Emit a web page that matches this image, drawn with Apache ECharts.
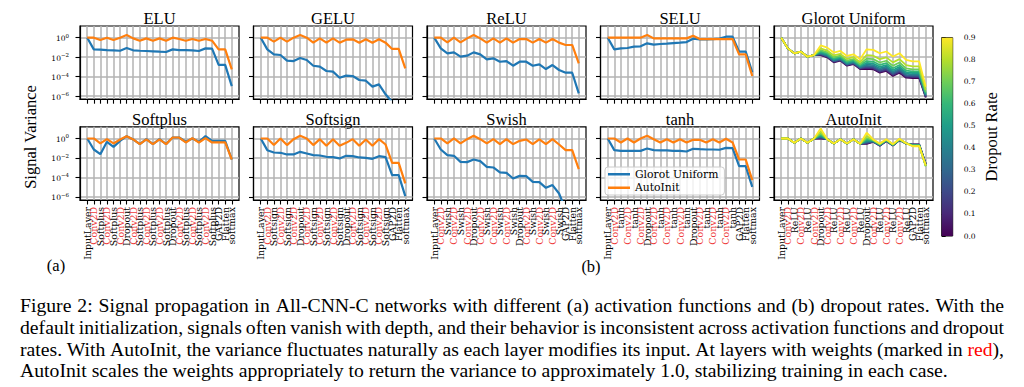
<!DOCTYPE html>
<html><head><meta charset="utf-8">
<script src="https://cdn.jsdelivr.net/npm/echarts@6/dist/echarts.min.js"></script>
<style>html,body{margin:0;padding:0;background:#fff}#c{width:1024px;height:387px}</style>
</head><body><div id="c"></div>
<script>
// ---------------- DATA (log10 of signal variance) ----------------
const layerPattern = ['InputLayer','Conv2D','ACT','Conv2D','ACT','Conv2D','Dropout','Conv2D','ACT','Conv2D','ACT','Conv2D','ACT','Dropout','Conv2D','ACT','Conv2D','ACT','Conv2D','ACT','GAP2D','Flatten','softmax'];
const panelTitles = ['ELU','GELU','ReLU','SELU','Glorot Uniform','Softplus','Softsign','Swish','tanh','AutoInit'];
const panelActs = ['ELU','GELU','ReLU','SELU','ReLU','Softplus','Softsign','Swish','tanh','ReLU'];
const yTickExponents = [-6,-4,-2,0];
const dropoutRates = [0.0,0.1,0.2,0.3,0.4,0.5,0.6,0.7,0.8,0.9];
const colorbarTicks = [0.0,0.1,0.2,0.3,0.4,0.5,0.6,0.7,0.8,0.9];

const eluGlorot    = [0,-1.2,-1.23,-1.27,-1.3,-1.34,-1.06,-1.3,-1.34,-1.37,-1.4,-1.44,-1.47,-1.2,-1.27,-1.27,-1.3,-1.37,-1.1,-1.13,-2.8,-2.8,-4.97];
const eluAutoInit  = [0,0,-0.24,0,-0.24,0,0.27,-0.07,-0.31,-0.07,-0.31,-0.07,-0.31,0,-0.14,-0.31,-0.14,-0.31,-0.14,-0.31,-1.2,-1.2,-3.25];
const geluGlorot   = [0,-1.2,-1.71,-1.78,-2.36,-2.4,-2.09,-2.29,-2.88,-2.98,-3.42,-3.49,-4.11,-3.9,-3.94,-4.35,-4.42,-5.03,-4.8,-5.82,-6.6,-6.6,-8.6];
const geluAutoInit = [0,0,-0.41,0,-0.41,0,0.27,0,-0.51,-0.07,-0.51,-0.07,-0.51,-0.2,-0.17,-0.51,-0.17,-0.51,-0.17,-0.51,-1.16,-1.16,-3.15];
const reluGlorot   = [0,-1.1,-1.61,-1.51,-1.95,-1.85,-1.51,-1.71,-2.23,-2.12,-2.47,-2.4,-2.88,-2.47,-2.47,-2.88,-2.74,-3.22,-2.81,-3.32,-3.6,-3.6,-5.72];
const reluAutoInit = [0,0,-0.48,0,-0.48,-0.07,0.27,-0.07,-0.51,-0.07,-0.51,-0.07,-0.51,-0.14,-0.14,-0.51,-0.14,-0.51,-0.14,-0.51,-0.75,-0.75,-2.64];
const seluGlorot   = [0,-1.2,-1.1,-1.06,-0.92,-0.89,-0.58,-0.72,-0.65,-0.62,-0.55,-0.51,-0.45,-0.1,-0.17,-0.17,-0.14,-0.1,0.1,0.1,-1.44,-1.44,-3.56];
const seluAutoInit = [0,0,0,0,0,0,0.27,-0.07,-0.07,-0.07,-0.07,-0.07,-0.07,0.2,-0.14,-0.14,-0.14,-0.14,-0.14,-0.14,-1.71,-1.71,-3.94];
const softplusGlorot   = [0,-1.13,-1.61,-0.34,-0.86,-0.24,0.24,-0.1,-0.58,-0.07,-0.58,-0.07,-0.58,0.1,0.1,-0.34,0,-0.34,0.24,-0.24,-0.24,-0.24,-2.16];
const softplusAutoInit = [0,0,-0.51,-0.07,-0.51,-0.1,0.24,-0.1,-0.58,-0.1,-0.58,-0.1,-0.58,0.1,0.1,-0.41,0.03,-0.41,0.03,-0.41,-0.41,-0.41,-2.16];
const softsignGlorot   = [0,-1.2,-1.44,-1.47,-1.64,-1.64,-1.37,-1.54,-1.71,-1.75,-1.88,-1.92,-2.05,-1.78,-1.82,-1.95,-1.99,-2.09,-1.82,-1.92,-3.77,-3.77,-5.92];
const softsignAutoInit = [0,0,-0.68,0,-0.68,-0.07,0.27,0,-0.68,-0.07,-0.75,-0.07,-0.75,-0.45,-0.07,-0.75,-0.1,-0.75,-0.07,-0.62,-2.5,-2.5,-4.62];
const swishGlorot   = [0,-1.13,-1.71,-1.78,-2.4,-2.43,-2.16,-2.33,-2.91,-2.98,-3.49,-3.53,-4.11,-3.84,-3.87,-4.45,-4.49,-5.07,-4.79,-5.65,-7.3,-7.3,-9.5];
const swishAutoInit = [0,0,-0.51,0,-0.51,-0.07,0.27,-0.07,-0.51,-0.07,-0.58,-0.07,-0.58,-0.24,-0.1,-0.58,-0.1,-0.58,-0.07,-0.62,-1.2,-1.2,-3.15];
const tanhGlorot   = [0,-1.2,-1.27,-1.27,-1.27,-1.27,-1.03,-1.2,-1.23,-1.23,-1.27,-1.27,-1.34,-1.06,-1.1,-1.13,-1.13,-1.16,-0.96,-0.99,-2.84,-2.84,-4.97];
const tanhAutoInit = [0,0,-0.41,0,-0.41,0,0.27,-0.07,-0.41,-0.07,-0.41,-0.07,-0.41,-0.14,-0.14,-0.41,-0.07,-0.41,-0.03,-0.41,-2.16,-2.16,-4.28];

// Dropout study (ReLU network), one row per dropout rate 0.0 ... 0.9
const glorotDropout = [
 [0,-1.1,-1.61,-1.44,-1.95,-1.78,-1.8,-2.02,-2.53,-2.36,-2.88,-2.71,-3.22,-3.2,-3.25,-3.6,-3.42,-3.94,-3.6,-4.11,-4.14,-4.14,-6.13],
 [0,-1.1,-1.61,-1.44,-1.95,-1.78,-1.75,-1.97,-2.48,-2.31,-2.83,-2.66,-3.17,-3.11,-3.16,-3.51,-3.33,-3.85,-3.51,-4.03,-4.06,-4.06,-6.08],
 [0,-1.1,-1.61,-1.44,-1.95,-1.78,-1.70,-1.92,-2.43,-2.26,-2.78,-2.61,-3.12,-3.01,-3.06,-3.41,-3.23,-3.75,-3.41,-3.93,-3.98,-3.98,-6.02],
 [0,-1.1,-1.61,-1.44,-1.95,-1.78,-1.65,-1.87,-2.38,-2.21,-2.73,-2.56,-3.07,-2.89,-2.94,-3.29,-3.11,-3.63,-3.29,-3.83,-3.88,-3.88,-5.96],
 [0,-1.1,-1.61,-1.44,-1.95,-1.78,-1.58,-1.80,-2.31,-2.14,-2.66,-2.49,-3.0,-2.76,-2.81,-3.16,-2.98,-3.5,-3.16,-3.7,-3.76,-3.76,-5.89],
 [0,-1.1,-1.61,-1.44,-1.95,-1.78,-1.5,-1.72,-2.23,-2.06,-2.58,-2.41,-2.92,-2.6,-2.65,-3.0,-2.82,-3.34,-3.0,-3.56,-3.63,-3.63,-5.8],
 [0,-1.1,-1.61,-1.44,-1.95,-1.78,-1.4,-1.62,-2.13,-1.96,-2.48,-2.31,-2.82,-2.4,-2.45,-2.8,-2.62,-3.14,-2.8,-3.38,-3.46,-3.46,-5.69],
 [0,-1.1,-1.61,-1.44,-1.95,-1.78,-1.28,-1.5,-2.01,-1.84,-2.36,-2.19,-2.7,-2.15,-2.2,-2.55,-2.37,-2.89,-2.55,-3.15,-3.25,-3.25,-5.55],
 [0,-1.1,-1.61,-1.44,-1.95,-1.78,-1.1,-1.32,-1.83,-1.66,-2.18,-2.01,-2.52,-1.8,-1.85,-2.2,-2.02,-2.54,-2.2,-2.82,-2.95,-2.95,-5.36],
 [0,-1.1,-1.61,-1.44,-1.95,-1.78,-0.8,-1.02,-1.53,-1.36,-1.88,-1.71,-2.22,-1.2,-1.25,-1.6,-1.42,-1.94,-1.6,-2.27,-2.44,-2.44,-5.03]
];
const autoInitDropout = [
 [0,0,-0.45,0,-0.45,0,0,-0.07,-0.51,-0.07,-0.51,-0.07,-0.55,-0.55,-0.34,-0.75,-0.27,-0.72,-0.17,-0.52,-0.62,-0.62,-2.6],
 [0,0,-0.45,0,-0.45,0,0.05,-0.07,-0.51,-0.07,-0.51,-0.07,-0.55,-0.5,-0.32,-0.73,-0.25,-0.71,-0.16,-0.52,-0.63,-0.63,-2.63],
 [0,0,-0.45,0,-0.45,0,0.1,-0.07,-0.51,-0.07,-0.51,-0.07,-0.55,-0.44,-0.3,-0.71,-0.24,-0.70,-0.15,-0.51,-0.64,-0.64,-2.66],
 [0,0,-0.45,0,-0.45,0,0.16,-0.07,-0.51,-0.07,-0.51,-0.07,-0.55,-0.37,-0.28,-0.69,-0.22,-0.69,-0.14,-0.51,-0.65,-0.65,-2.7],
 [0,0,-0.45,0,-0.45,0,0.22,-0.07,-0.51,-0.07,-0.51,-0.07,-0.55,-0.3,-0.26,-0.67,-0.2,-0.68,-0.13,-0.5,-0.67,-0.67,-2.74],
 [0,0,-0.45,0,-0.45,0,0.3,-0.07,-0.51,-0.07,-0.51,-0.07,-0.55,-0.2,-0.23,-0.64,-0.18,-0.66,-0.11,-0.5,-0.69,-0.69,-2.78],
 [0,0,-0.45,0,-0.45,0,0.4,-0.07,-0.51,-0.07,-0.51,-0.07,-0.55,-0.09,-0.2,-0.61,-0.16,-0.65,-0.1,-0.5,-0.71,-0.71,-2.82],
 [0,0,-0.45,0,-0.45,0,0.52,-0.07,-0.51,-0.07,-0.51,-0.07,-0.55,0.05,-0.17,-0.58,-0.13,-0.63,-0.08,-0.49,-0.74,-0.74,-2.85],
 [0,0,-0.45,0,-0.45,0,0.7,-0.07,-0.51,-0.07,-0.51,-0.07,-0.55,0.25,-0.14,-0.55,-0.1,-0.61,-0.06,-0.49,-0.77,-0.77,-2.83],
 [0,0,-0.45,0,-0.45,0,1.02,-0.07,-0.51,-0.07,-0.51,-0.07,-0.55,0.6,-0.1,-0.51,-0.07,-0.58,-0.03,-0.48,-0.8,-0.8,-2.75]
];

const captionLines = [
 'Figure 2: Signal propagation in All-CNN-C networks with different (a) activation functions and (b) dropout rates. With the',
 'default initialization, signals often vanish with depth, and their behavior is inconsistent across activation functions and dropout',
 'rates. With AutoInit, the variance fluctuates naturally as each layer modifies its input. At layers with weights (marked in red),',
 'AutoInit scales the weights appropriately to return the variance to approximately 1.0, stabilizing training in each case.'
];

// ---------------- STYLE / LAYOUT ----------------
const BLUE = '#1f77b4', ORANGE = '#ff7f0e', LABELRED = '#ee3b3b';
const viridis = ['#440154','#482878','#3e4989','#31688e','#26828e','#1f9e89','#35b779','#6ece58','#b5de2b','#fde725'];
const panelLeft = [80, 253.5, 427, 600.5, 774];
const rowTop = [26, 126.8];
const panelW = 159, panelH = 73.2;
const SERIF = 'Liberation Serif', LSERIF = 'DejaVu Serif';
const GRIDC = '#b3b3b3';
const XMIN = -1.1, XMAX = 23.1, YMIN = -6.32, YMAX = 1.2;

const grids = [], xAxes = [], yAxes = [], series = [], graphics = [];
const xIdx = layerPattern.map((_, i) => i);
const xEven = xIdx.filter(i => i % 2 === 0), xOdd = xIdx.filter(i => i % 2 === 1);

function supExp(v){ const e = Math.round(v); return e < 0 ? '\u2212' + (-e) : String(e); }
function labelCfg(names, values, show) {
  return {show: show, customValues: values, rotate: 90, margin: 7,
    showMinLabel: true, showMaxLabel: true, hideOverlap: false,
    fontFamily: LSERIF, fontSize: 9.4,
    formatter: v => names[Math.round(Number(v))],
    color: (v) => names[Math.round(Number(v))] === 'Conv2D' ? LABELRED : '#000'};
}

const panelNames = [];
for (let k = 0; k < 10; k++) {
  const row = Math.floor(k / 5), col = k % 5;
  const left = panelLeft[col], top = rowTop[row];
  grids.push({left: left, top: top, width: panelW, height: panelH, show: true,
    borderColor: '#000', borderWidth: 1.2, backgroundColor: 'transparent', containLabel: false});
  const act = panelActs[k];
  const names = layerPattern.map(n => n === 'ACT' ? act : n);
  panelNames.push(names);
  xAxes.push({type: 'value', gridIndex: k, min: XMIN, max: XMAX,
    axisLine: {show: true, onZero: false, lineStyle: {color: '#000', width: 1.2}},
    axisTick: {show: true, customValues: xIdx, length: 4.5, inside: false, lineStyle: {color: '#000', width: 1.1}},
    splitLine: {show: true, lineStyle: {color: GRIDC, width: 1.5}},
    axisLabel: labelCfg(names, xEven, row === 1)
  });
  yAxes.push({type: 'value', gridIndex: k, min: YMIN, max: YMAX,
    axisLine: {show: true, onZero: false, lineStyle: {color: '#000', width: 1.2}},
    axisTick: {show: true, customValues: yTickExponents, length: 4.5, lineStyle: {color: '#000', width: 1.1}},
    splitLine: {show: true, lineStyle: {color: GRIDC, width: 1.5}},
    axisLabel: {show: col === 0, customValues: yTickExponents, margin: 11, align: 'right',
      showMinLabel: true, showMaxLabel: true,
      formatter: v => '{b|10}{s|' + supExp(v) + '}',
      rich: {b: {fontFamily: LSERIF, fontSize: 7.5, color: '#000', lineHeight: 10, verticalAlign: 'bottom'},
             s: {fontFamily: LSERIF, fontSize: 5.5, color: '#000', lineHeight: 4, verticalAlign: 'top'}}}
  });
  graphics.push({type: 'text', x: left + panelW / 2, y: top - 7.3,
    style: {text: panelTitles[k], font: '16.5px "' + SERIF + '"', fill: '#000', textAlign: 'center', textVerticalAlign: 'middle'}});
}
// overlay grids (same place) carrying the odd-index layer labels of the bottom row
for (let k = 5; k < 10; k++) {
  const g = grids.length;
  grids.push({left: panelLeft[k - 5], top: rowTop[1], width: panelW, height: panelH, show: false});
  xAxes.push({type: 'value', gridIndex: g, min: XMIN, max: XMAX,
    axisLine: {show: false}, axisTick: {show: false}, splitLine: {show: false},
    axisLabel: labelCfg(panelNames[k], xOdd, true)});
  yAxes.push({type: 'value', gridIndex: g, min: YMIN, max: YMAX, show: false, splitLine: {show: false}});
}

const pairs = [
  [eluGlorot, eluAutoInit], [geluGlorot, geluAutoInit], [reluGlorot, reluAutoInit], [seluGlorot, seluAutoInit], null,
  [softplusGlorot, softplusAutoInit], [softsignGlorot, softsignAutoInit], [swishGlorot, swishAutoInit], [tanhGlorot, tanhAutoInit], null
];
const toXY = arr => arr.map((v, i) => [i, v]);
pairs.forEach((p, k) => {
  if (!p) return;
  series.push({type: 'line', name: 'Glorot Uniform', xAxisIndex: k, yAxisIndex: k, data: toXY(p[0]),
    showSymbol: false, symbol: 'none', color: BLUE, lineStyle: {color: BLUE, width: 2.2}, z: 3, clip: true});
  series.push({type: 'line', name: 'AutoInit', xAxisIndex: k, yAxisIndex: k, data: toXY(p[1]),
    showSymbol: false, symbol: 'none', color: ORANGE, lineStyle: {color: ORANGE, width: 2.2}, z: 4, clip: true});
});
[[4, glorotDropout], [9, autoInitDropout]].forEach(([k, sets]) => {
  sets.forEach((arr, j) => {
    series.push({type: 'line', name: 'dropout ' + dropoutRates[j].toFixed(1), xAxisIndex: k, yAxisIndex: k,
      data: toXY(arr), showSymbol: false, symbol: 'none', color: viridis[j],
      lineStyle: {color: viridis[j], width: 1.8}, z: 3 + j * 0.01, clip: true});
  });
});

// colorbar
const cbK = grids.length;
grids.push({left: 941.7, top: 37.7, width: 11, height: 198.3, show: true, borderColor: '#000', borderWidth: 1, backgroundColor: 'transparent'});
xAxes.push({type: 'value', gridIndex: cbK, min: 0, max: 1, show: false});
yAxes.push({type: 'value', gridIndex: cbK, position: 'right', min: 0, max: 0.9, interval: 0.1,
  axisLine: {show: false}, splitLine: {show: false},
  axisTick: {show: true, length: 4, lineStyle: {color: '#000', width: 1}},
  axisLabel: {margin: 11, formatter: v => v.toFixed(1), fontFamily: LSERIF, fontSize: 7.5, color: '#000', showMinLabel: true, showMaxLabel: true},
  name: 'Dropout Rate', nameLocation: 'middle', nameRotate: 90, nameGap: 30,
  nameTextStyle: {fontFamily: SERIF, fontSize: 16.5, color: '#000'}});
series.push({type: 'custom', xAxisIndex: cbK, yAxisIndex: cbK, data: [[0, colorbarTicks[0]]], silent: true, z: 1,
  renderItem: (params, api) => {
    const p0 = api.coord([0, 0]), p1 = api.coord([1, 0.9]);
    return {type: 'rect', shape: {x: p0[0], y: p1[1], width: p1[0] - p0[0], height: p0[1] - p1[1]},
      style: {fill: new echarts.graphic.LinearGradient(0, 1, 0, 0, viridis.map((c, i) => ({offset: i / (viridis.length - 1), color: c})))}};
  }});

// extra texts
graphics.push({type: 'text', x: 30, y: 137, rotation: Math.PI / 2,
  style: {text: 'Signal Variance', font: '16.5px "' + SERIF + '"', fill: '#000', textAlign: 'center', textVerticalAlign: 'middle'}});
graphics.push({type: 'text', x: 56, y: 265, style: {text: '(a)', font: '16.5px "' + SERIF + '"', fill: '#000', textAlign: 'center', textVerticalAlign: 'middle'}});
graphics.push({type: 'text', x: 591, y: 266, style: {text: '(b)', font: '16.5px "' + SERIF + '"', fill: '#000', textAlign: 'center', textVerticalAlign: 'middle'}});

// caption, justified
const CAPF = '19.7px "' + SERIF + '"';
const mctx = document.createElement('canvas').getContext('2d');
mctx.font = CAPF;
const capLeft = 20, capRight = 1004, capY = [305, 327, 348.5, 370];
captionLines.forEach((line, li) => {
  const words = line.split(' ');
  const widths = words.map(w => mctx.measureText(w).width);
  const total = widths.reduce((a, b) => a + b, 0);
  const justify = li < captionLines.length - 1;
  let gap = justify ? (capRight - capLeft - total) / (words.length - 1) : mctx.measureText(' ').width;
  if (gap < 2) gap = 2;
  let x = capLeft;
  words.forEach((w, i) => {
    if (w === 'red),') {
      const wr = mctx.measureText('red').width;
      graphics.push({type: 'text', x: x, y: capY[li], style: {text: 'red', font: CAPF, fill: '#ff0000', textAlign: 'left', textVerticalAlign: 'middle'}});
      graphics.push({type: 'text', x: x + wr, y: capY[li], style: {text: '),', font: CAPF, fill: '#000', textAlign: 'left', textVerticalAlign: 'middle'}});
    } else {
      graphics.push({type: 'text', x: x, y: capY[li], style: {text: w, font: CAPF, fill: '#000', textAlign: 'left', textVerticalAlign: 'middle'}});
    }
    x += widths[i] + gap;
  });
});

const chart = echarts.init(document.getElementById('c'), null, {renderer: 'svg', width: 1024, height: 387});
chart.setOption({
  animation: false,
  backgroundColor: '#fff',
  grid: grids, xAxis: xAxes, yAxis: yAxes, series: series,
  legend: {data: ['Glorot Uniform', 'AutoInit'], left: 605, top: 167, orient: 'vertical', icon: 'rect',
    itemWidth: 22, itemHeight: 2.5, itemGap: 1, padding: [1, 6, 1, 3], selectedMode: false,
    backgroundColor: 'rgba(255,255,255,0.8)', borderColor: '#cccccc', borderWidth: 1, borderRadius: 3,
    textStyle: {fontFamily: LSERIF, fontSize: 10.8, color: '#000', lineHeight: 12.5}},
  graphic: {elements: graphics}
});
</script></body></html>
